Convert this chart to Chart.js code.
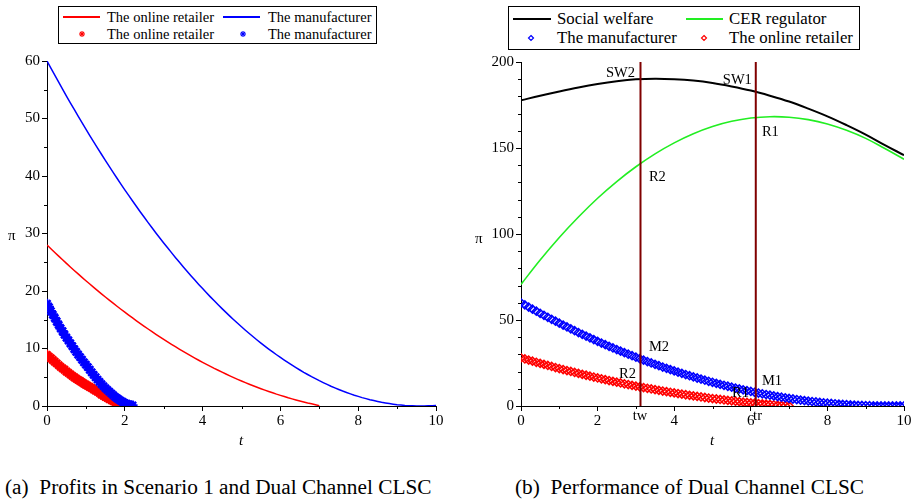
<!DOCTYPE html>
<html>
<head>
<meta charset="utf-8">
<script src="https://cdn.jsdelivr.net/npm/chart.js@4.4.1/dist/chart.umd.min.js"></script>
<style>
  body { margin:0; background:#fff; width:914px; height:503px; position:relative; overflow:hidden;
         font-family:"Liberation Serif","Times New Roman",serif; color:#000; }
  canvas { position:absolute; }
  .legend { position:absolute; border:1px solid #000; background:#fff; box-sizing:border-box; }
  .legend span { position:absolute; white-space:nowrap; }
  .legend .ln { position:absolute; height:0; border-top:2px solid; }
  .legend svg { position:absolute; overflow:visible; }
  .cap { position:absolute; font-size:21.3px; line-height:24px; white-space:nowrap; }
  .alab { position:absolute; font-size:15px; line-height:16px; }
</style>
</head>
<body>

<div class="legend" id="legA" style="left:58px;top:6px;width:319px;height:38px;font-size:14.5px;line-height:16px;">
  <div class="ln" style="left:4px;top:9px;width:37px;border-color:#f00;"></div>
  <span style="left:48px;top:2px;">The online retailer</span>
  <div class="ln" style="left:164px;top:9px;width:37px;border-color:#00f;"></div>
  <span style="left:209px;top:2px;">The manufacturer</span>
  <svg style="left:23px;top:27px;" width="1" height="1"><g stroke="#f00" stroke-width="1.2"><line x1="-3" y1="0" x2="3" y2="0"/><line x1="0" y1="-3" x2="0" y2="3"/><line x1="-2.1" y1="-2.1" x2="2.1" y2="2.1"/><line x1="-2.1" y1="2.1" x2="2.1" y2="-2.1"/></g></svg>
  <span style="left:48px;top:19px;">The online retailer</span>
  <svg style="left:184px;top:27px;" width="1" height="1"><g stroke="#00f" stroke-width="1.2"><line x1="-3" y1="0" x2="3" y2="0"/><line x1="0" y1="-3" x2="0" y2="3"/><line x1="-2.1" y1="-2.1" x2="2.1" y2="2.1"/><line x1="-2.1" y1="2.1" x2="2.1" y2="-2.1"/></g></svg>
  <span style="left:209px;top:19px;">The manufacturer</span>
</div>

<div class="legend" id="legB" style="left:508px;top:6px;width:352px;height:44px;font-size:16.8px;line-height:18px;">
  <div class="ln" style="left:4px;top:11px;width:38px;border-color:#000;"></div>
  <span style="left:48px;top:3px;">Social welfare</span>
  <div class="ln" style="left:177px;top:11px;width:37px;border-color:#22ee22;"></div>
  <span style="left:220px;top:3px;">CER regulator</span>
  <svg style="left:22px;top:31px;" width="1" height="1"><polygon points="0,-2.5 2.5,0 0,2.5 -2.5,0" fill="none" stroke="#00f" stroke-width="1.2"/></svg>
  <span style="left:48px;top:22px;">The manufacturer</span>
  <svg style="left:195px;top:31px;" width="1" height="1"><polygon points="0,-2.5 2.5,0 0,2.5 -2.5,0" fill="none" stroke="#f00" stroke-width="1.2"/></svg>
  <span style="left:220px;top:22px;">The online retailer</span>
</div>

<canvas id="chartA" width="460" height="410" style="left:0;top:50px;"></canvas>
<canvas id="chartB" width="454" height="410" style="left:460px;top:50px;"></canvas>

<div class="alab" style="left:8px;top:227px;">π</div>
<div class="alab" style="left:239px;top:432px;font-style:italic;">t</div>
<div class="alab" style="left:475px;top:230px;">π</div>
<div class="alab" style="left:710px;top:432px;font-style:italic;">t</div>

<div class="cap" style="left:5px;top:475px;">(a)&nbsp; Profits in Scenario 1 and Dual Channel CLSC</div>
<div class="cap" style="left:515px;top:475px;">(b)&nbsp; Performance of Dual Channel CLSC</div>

<script>
// t grid for the dual channel profit curves (step 0.1)
const tFine = [0,0.1,0.2,0.3,0.4,0.5,0.6,0.7,0.8,0.9,1,1.1,1.2,1.3,1.4,1.5,1.6,1.7,1.8,1.9,
  2,2.1,2.2,2.3,2.4,2.5,2.6,2.7,2.8,2.9,3,3.1,3.2,3.3,3.4,3.5,3.6,3.7,3.8,3.9,
  4,4.1,4.2,4.3,4.4,4.5,4.6,4.7,4.8,4.9,5,5.1,5.2,5.3,5.4,5.5,5.6,5.7,5.8,5.9,
  6,6.1,6.2,6.3,6.4,6.5,6.6,6.7,6.8,6.9,7,7.1,7.2,7.3,7.4,7.5,7.6,7.7,7.8,7.9,
  8,8.1,8.2,8.3,8.4,8.5,8.6,8.7,8.8,8.9,9,9.1,9.2,9.3,9.4,9.5,9.6,9.7,9.8,9.9,10];

// manufacturer profit, dual channel
const manufacturerDual = [60.0,58.76,57.53,56.31,55.10,53.91,52.73,51.57,50.42,49.28,
  48.15,47.04,45.94,44.85,43.78,42.71,41.67,40.63,39.61,38.60,
  37.60,36.62,35.65,34.69,33.75,32.82,31.90,31.00,30.10,29.23,
  28.36,27.51,26.67,25.84,25.03,24.23,23.44,22.66,21.90,21.15,
  20.42,19.69,18.98,18.29,17.60,16.93,16.28,15.63,15.00,14.38,
  13.78,13.18,12.60,12.04,11.48,10.94,10.42,9.90,9.40,8.91,
  8.44,7.98,7.53,7.09,6.67,6.26,5.86,5.48,5.10,4.75,
  4.40,4.07,3.75,3.44,3.15,2.87,2.60,2.35,2.11,1.88,
  1.67,1.46,1.28,1.10,0.94,0.79,0.65,0.53,0.42,0.32,
  0.23,0.16,0.10,0.06,0.03,0.01,0,0.01,0.03,0.06,0.10];

// online retailer profit, dual channel (t = 0 .. 7)
const retailerDual = [28.00,27.35,26.70,26.06,25.43,24.80,24.18,23.57,22.97,22.37,
  21.79,21.21,20.63,20.07,19.51,18.96,18.41,17.88,17.35,16.83,
  16.31,15.81,15.31,14.82,14.33,13.86,13.39,12.93,12.47,12.02,
  11.58,11.15,10.73,10.31,9.90,9.50,9.10,8.71,8.33,7.96,
  7.60,7.24,6.89,6.54,6.21,5.88,5.56,5.25,4.94,4.64,
  4.35,4.07,3.79,3.52,3.26,3.01,2.76,2.52,2.29,2.06,
  1.85,1.64,1.43,1.24,1.05,0.87,0.70,0.53,0.38,0.23,0.05];

// scenario 1 (star markers), step 0.05
const tStar = [0,0.05,0.1,0.15,0.2,0.25,0.3,0.35,0.4,0.45,0.5,0.55,0.6,0.65,0.7,0.75,0.8,0.85,0.9,0.95,
  1,1.05,1.1,1.15,1.2,1.25,1.3,1.35,1.4,1.45,1.5,1.55,1.6,1.65,1.7,1.75,1.8,1.85,1.9,1.95,
  2,2.05,2.1,2.15,2.2];
const manufacturerS1 = [17.8,17.2,16.5,15.9,15.3,14.7,14.1,13.5,13.0,12.4,11.9,11.4,10.9,10.4,9.9,9.4,8.95,8.5,8.05,7.6,
  7.2,6.75,6.3,5.85,5.4,5.0,4.6,4.2,3.8,3.45,3.1,2.8,2.5,2.2,1.9,1.6,1.35,1.1,0.9,0.7,
  0.5,0.35,0.2,0.15,0.1];
const retailerS1 = [8.9,8.6,8.3,8.0,7.7,7.4,7.1,6.8,6.55,6.3,6.0,5.75,5.5,5.25,5.0,4.75,4.55,4.35,4.1,3.9,
  3.7,3.5,3.3,3.1,2.9,2.7,2.5,2.3,2.0,1.8,1.6,1.4,1.2,1.05,0.85,0.7,0.5,0.35,0.2,0.1,0];

// chart (b) lines, step 0.5
const tCoarse = [0,0.5,1,1.5,2,2.5,3,3.5,4,4.5,5,5.5,6,6.5,7,7.5,8,8.5,9,9.5,10];
const socialWelfare = [177.7,180.4,182.9,185.2,187.2,188.8,189.9,190.3,190.0,189.2,187.8,
  185.8,183.4,180.4,177.0,172.9,168.4,163.3,157.8,151.7,145.8];
const cerRegulator = [70.7,84.9,98.0,109.9,120.8,130.5,139.1,146.6,153.0,158.3,162.5,
  165.5,167.4,168.2,167.9,166.5,164.0,160.3,155.6,149.7,143.5];

const tw = 3.12, tr = 6.13;

// minor tick values
const xTicksMinor = [1,3,5,7,9];
const yMinorA = [5,15,25,35,45,55];
const yMinorB = [10,20,30,40,60,70,80,90,110,120,130,140,160,170,180,190];

function pts(xs, ys) {
  return ys.map((v, i) => ({x: xs[i], y: v}));
}

const serif = '"Liberation Serif", "Times New Roman", serif';

const minorTicks = {
  id: 'minorTicks',
  afterDraw(chart, args, opts) {
    const ctx = chart.ctx, xs = chart.scales.x, ys = chart.scales.y;
    ctx.save();
    ctx.strokeStyle = '#000';
    ctx.lineWidth = 1;
    opts.x.forEach(v => {
      const px = Math.round(xs.getPixelForValue(v)) + 0.5;
      ctx.beginPath(); ctx.moveTo(px, ys.bottom); ctx.lineTo(px, ys.bottom + 3); ctx.stroke();
    });
    opts.y.forEach(v => {
      const py = Math.round(ys.getPixelForValue(v)) + 0.5;
      ctx.beginPath(); ctx.moveTo(xs.left, py); ctx.lineTo(xs.left - 3, py); ctx.stroke();
    });
    ctx.restore();
  }
};

// text labels on chart (b), at data coordinates
const textMarks = {
  id: 'textMarks',
  afterDraw(chart, args, opts) {
    const ctx = chart.ctx, xs = chart.scales.x, ys = chart.scales.y;
    ctx.save();
    ctx.fillStyle = '#000';
    ctx.font = '14.5px ' + serif;
    ctx.textAlign = 'left';
    ctx.textBaseline = 'alphabetic';
    opts.items.forEach(it => ctx.fillText(it.text, xs.getPixelForValue(it.t), ys.getPixelForValue(it.v)));
    ctx.restore();
  }
};

function axes(yMax, yStep, yWidth) {
  const tickFont = {family: serif, size: 15};
  return {
    x: {
      type: 'linear', min: 0, max: 10,
      ticks: {stepSize: 2, font: tickFont, color: '#000', padding: 1, maxRotation: 0},
      grid: {drawOnChartArea: false, tickLength: 5, color: '#000'},
      border: {color: '#000', width: 1},
      afterFit(s) { s.height = 30; }
    },
    y: {
      type: 'linear', min: 0, max: yMax,
      ticks: {stepSize: yStep, font: tickFont, color: '#000', padding: 2},
      grid: {drawOnChartArea: false, tickLength: 5, color: '#000'},
      border: {color: '#000', width: 1},
      afterFit(s) { s.width = yWidth; }
    }
  };
}

new Chart(document.getElementById('chartA'), {
  type: 'line',
  data: {
    datasets: [
      {label: 'The manufacturer', data: pts(tStar, manufacturerS1), showLine: false,
       pointStyle: 'star', pointRadius: 5, borderWidth: 2.5, borderColor: '#0000ff'},
      {label: 'The online retailer', data: pts(tStar, retailerS1), showLine: false,
       pointStyle: 'star', pointRadius: 5, borderWidth: 2.5, borderColor: '#ff0000'},
      {label: 'The online retailer', data: pts(tFine, retailerDual),
       borderColor: '#ff0000', borderWidth: 1.5, pointRadius: 0},
      {label: 'The manufacturer', data: pts(tFine, manufacturerDual),
       borderColor: '#0000ff', borderWidth: 1.5, pointRadius: 0}
    ]
  },
  options: {
    responsive: false,
    animation: false,
    layout: {padding: {top: 8, right: 24, bottom: 24, left: 0}},
    plugins: {legend: {display: false}, tooltip: {enabled: false},
              minorTicks: {x: xTicksMinor, y: yMinorA}},
    scales: axes(60, 10, 47)
  },
  plugins: [minorTicks]
});

new Chart(document.getElementById('chartB'), {
  type: 'line',
  data: {
    datasets: [
      {label: 'tw', data: [{x: tw, y: 0}, {x: tw, y: 200}], borderColor: '#800000', borderWidth: 2, pointRadius: 0},
      {label: 'tr', data: [{x: tr, y: 0}, {x: tr, y: 200}], borderColor: '#800000', borderWidth: 2, pointRadius: 0},
      {label: 'Social welfare', data: pts(tCoarse, socialWelfare),
       borderColor: '#000000', borderWidth: 2, pointRadius: 0, tension: 0.4},
      {label: 'CER regulator', data: pts(tCoarse, cerRegulator),
       borderColor: '#22ee22', borderWidth: 1.6, pointRadius: 0, tension: 0.4},
      {label: 'The manufacturer', data: pts(tFine, manufacturerDual), showLine: false,
       pointStyle: 'rectRot', pointRadius: 4, borderWidth: 1.6, borderColor: '#0000ff', backgroundColor: 'rgba(255,255,255,0)'},
      {label: 'The online retailer', data: pts(tFine, retailerDual), showLine: false,
       pointStyle: 'rectRot', pointRadius: 4, borderWidth: 1.6, borderColor: '#ff0000', backgroundColor: 'rgba(255,255,255,0)'}
    ]
  },
  options: {
    responsive: false,
    animation: false,
    layout: {padding: {top: 12, right: 10, bottom: 24, left: 0}},
    plugins: {
      legend: {display: false}, tooltip: {enabled: false},
      minorTicks: {x: xTicksMinor, y: yMinorB},
      textMarks: {items: [
        {text: 'SW2', t: 2.22, v: 191.4},
        {text: 'SW1', t: 5.27, v: 187.4},
        {text: 'R1', t: 6.29, v: 157.1},
        {text: 'R2', t: 3.34, v: 130.9},
        {text: 'M2', t: 3.34, v: 31.9},
        {text: 'R2', t: 2.56, v: 16.1},
        {text: 'M1', t: 6.29, v: 12.1},
        {text: 'R1', t: 5.51, v: 5.1},
        {text: 'tw', t: 2.92, v: -8.3},
        {text: 'tr', t: 6.06, v: -8.3}
      ]}
    },
    scales: axes(200, 50, 61)
  },
  plugins: [minorTicks, textMarks]
});
</script>
</body>
</html>
